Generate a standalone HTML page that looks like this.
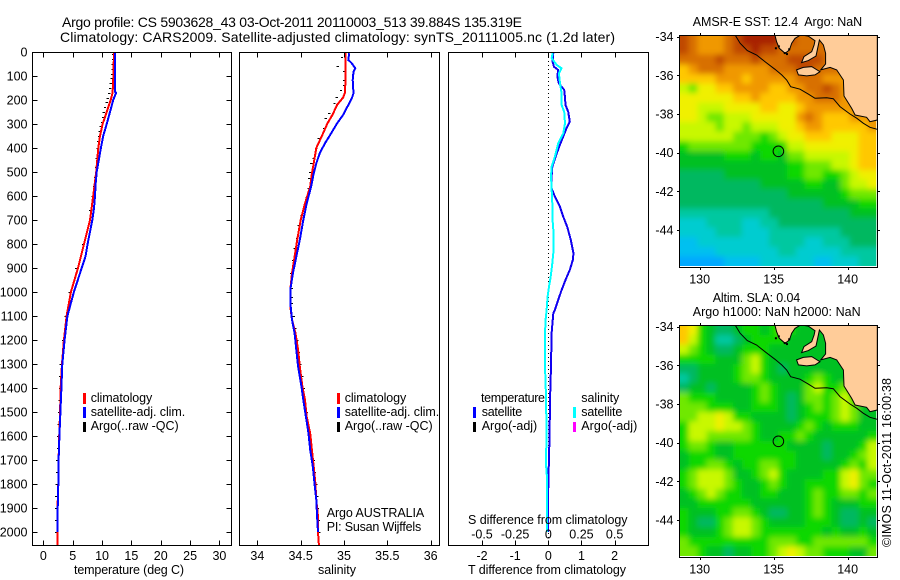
<!DOCTYPE html>
<html>
<head>
<meta charset="utf-8">
<title>Argo profile</title>
<style>
html,body{margin:0;padding:0;background:#fff;}
svg{display:block;}
text{font-family:"Liberation Sans",sans-serif;font-size:12.5px;fill:#000;}
</style>
</head>
<body>
<svg id="chart" width="900" height="580" viewBox="0 0 900 580" xmlns="http://www.w3.org/2000/svg">
<defs>
<filter id="soft" x="-10%" y="-10%" width="120%" height="120%"><feGaussianBlur stdDeviation="2.8"/></filter>
<clipPath id="clip-sst"><rect x="680" y="36" width="197" height="231"/></clipPath>
<clipPath id="clip-sla"><rect x="680" y="326" width="197" height="231"/></clipPath>
<clipPath id="cells-sst"><rect x="680" y="36" width="196.3" height="230"/></clipPath>
<clipPath id="cells-sla"><rect x="680" y="326" width="196.3" height="230"/></clipPath>
<clipPath id="clip-p1"><rect x="33" y="53" width="198" height="492"/></clipPath>
<clipPath id="clip-p2"><rect x="240" y="53" width="199" height="492"/></clipPath>
<clipPath id="clip-p3"><rect x="449" y="53" width="199" height="492"/></clipPath>
</defs>
<rect x="0" y="0" width="900" height="580" fill="#fff"/>

<text x="62" y="27" textLength="460" style="font-size:14px">Argo profile: CS 5903628_43 03-Oct-2011 20110003_513 39.884S 135.319E</text>
<text x="60" y="42" textLength="555" style="font-size:14px">Climatology: CARS2009. Satellite-adjusted climatology: synTS_20111005.nc (1.2d later)</text>

<g id="p1"></g>
<g id="p2"></g>
<g id="p3"></g>
<g id="m1"></g>
<g id="m2"></g>

<text x="74" y="574" textLength="110">temperature (deg C)</text>
<text x="318" y="574" textLength="38">salinity</text>
<text x="468" y="574" textLength="158">T difference from climatology</text>
<text x="468" y="524" textLength="159.5">S difference from climatology</text>

<g>
<rect x="83" y="393" width="3" height="11" fill="#f00"/>
<rect x="83" y="407" width="3" height="11" fill="#00f"/>
<rect x="83" y="422" width="3" height="10" fill="#000"/>
<text x="90.7" y="402" textLength="61.5">climatology</text>
<text x="90.7" y="416" textLength="94.5">satellite-adj. clim.</text>
<text x="90.7" y="430" textLength="88">Argo(..raw -QC)</text>
</g>
<g>
<rect x="337" y="393" width="3" height="11" fill="#f00"/>
<rect x="337" y="407" width="3" height="11" fill="#00f"/>
<rect x="337" y="422" width="3" height="10" fill="#000"/>
<text x="344.7" y="402" textLength="61.5">climatology</text>
<text x="344.7" y="416" textLength="94.5">satellite-adj. clim.</text>
<text x="344.7" y="430" textLength="88">Argo(..raw -QC)</text>
<text x="326.7" y="517" textLength="97.5">Argo AUSTRALIA</text>
<text x="326.7" y="531" textLength="94.5">PI: Susan Wijffels</text>
</g>
<g>
<text x="481" y="402" textLength="64">temperature</text>
<rect x="473" y="407" width="3" height="11" fill="#00f"/>
<rect x="473" y="422" width="3" height="10" fill="#000"/>
<text x="481.7" y="416" textLength="40.5">satellite</text>
<text x="481.7" y="430" textLength="55.5">Argo(-adj)</text>
<text x="581.3" y="402" textLength="38">salinity</text>
<rect x="573" y="407" width="3" height="11" fill="#0ff"/>
<rect x="573" y="422" width="3" height="10" fill="#f0f"/>
<text x="581.3" y="416" textLength="41">satellite</text>
<text x="581.3" y="430" textLength="56">Argo(-adj)</text>
</g>

<text x="692.7" y="26" textLength="169.5">AMSR-E SST: 12.4&#160; Argo: NaN</text>
<text x="712.7" y="302" textLength="87.5">Altim. SLA: 0.04</text>
<text x="692.7" y="316" textLength="168">Argo h1000: NaN h2000: NaN</text>
<text transform="translate(891,547) rotate(-90)" x="0" y="0" textLength="169">©IMOS 11-Oct-2011 16:00:38</text>

<script>
// ---- temperature panel data ----
const tempClimDepth = [0,100,170,200,250,300,350,400,500,600,700,800,850,900,1000,1100,1200,1300,1400,1500,1600,1700,1800,1900,2000,2055];
const tempClim = [12.04,11.93,11.8,11.47,10.8,10.1,9.66,9.37,9.0,8.5,7.95,6.93,6.42,5.9,4.7,3.97,3.5,3.18,2.95,2.85,2.7,2.6,2.55,2.42,2.39,2.39];
const tempSatDepth = [0,165,170,200,250,300,350,400,500,550,600,650,700,800,850,900,1000,1100,1200,1300,1400,1500,1600,1700,1800,1900,2000];
const tempSat = [12.2,12.2,12.4,11.9,11.36,10.8,10.2,9.8,9.1,8.9,8.8,8.63,8.35,7.55,7.2,6.53,5.2,4.1,3.63,3.24,3.07,2.9,2.73,2.6,2.55,2.44,2.39];
const tempArgoDepth = [10,30,50,70,90,110,130,150,170,190,210,230,250,270,290,310,330,350,370,400,440,480,520,560,600,660,720,800,900,1000,1100,1200,1300,1350,1400,1450,1500,1550,1600,1650,1700,1750,1800,1850,1900,1950,2000];
const tempArgo = [11.93,11.9,11.8,11.8,11.7,11.65,11.5,11.4,11.25,10.96,10.8,10.5,10.3,10.2,10,9.76,9.6,9.48,9.36,9.25,9.1,9,8.8,8.7,8.4,8.0,7.7,6.8,5.6,4.5,3.85,3.4,3.0,2.9,2.85,2.78,2.67,2.61,2.55,2.5,2.39,2.33,2.27,2.2,2.15,2.15,2.15];

// ---- salinity panel data ----
const salClimDepth = [5,100,170,190,220,260,297,346,400,464,506,561,631,700,783,853,922,992,1061,1116,1172,1241,1311,1394,1450,1519,1589,1658,1727,1797,1866,1936,2000,2055];
const salClim = [35.02,35.02,35.01,34.99,34.92,34.87,34.81,34.75,34.68,34.65,34.63,34.61,34.55,34.50,34.46,34.43,34.40,34.38,34.38,34.40,34.44,34.47,34.49,34.52,34.55,34.57,34.61,34.63,34.65,34.67,34.68,34.70,34.70,34.71];
const salSatDepth = [5,33,47,68,82,117,172,193,221,262,297,346,381,422,464,506,561,631,700,783,853,922,992,1061,1116,1172,1241,1311,1394,1450,1519,1589,1658,1727,1797,1866,1936,2000];
const salSat = [35.06,35.05,35.09,35.13,35.11,35.10,35.11,35.09,35.05,34.99,34.92,34.84,34.78,34.72,34.68,34.65,34.62,34.57,34.53,34.49,34.45,34.41,34.38,34.385,34.40,34.43,34.45,34.47,34.51,34.53,34.56,34.59,34.61,34.64,34.66,34.68,34.69,34.70];
const salArgoDepth = [19,58,78,117,138,158,189,211,253,276,318,360,401,443,464,499,526,568,603,638,679,721,776,818,867,922,985,1020,1047,1100,1150,1200,1250,1300,1350,1400,1450,1500,1550,1600,1650,1700,1750,1800,1850,1900,1950,2000];
const salArgo = [34.977,34.93,35.0,35.0,35.0,34.965,34.915,34.89,34.83,34.79,34.77,34.71,34.68,34.65,34.62,34.61,34.60,34.59,34.57,34.55,34.51,34.48,34.46,34.43,34.415,34.39,34.40,34.40,34.40,34.42,34.44,34.46,34.48,34.495,34.52,34.535,34.55,34.57,34.585,34.61,34.625,34.65,34.665,34.68,34.69,34.70,34.71,34.715];

// ---- difference panel data ----
const diffTDepth = [5,40,61,75,103,131,158,186,221,249,290,318,353,394,436,478,519,568,603,644,686,728,783,839,867,908,950,992,1033,1075,1089,1172,1311,1450,1589,1755,1866,2000];
const diffT = [0.15,0.13,0.17,0.30,0.27,0.32,0.48,0.50,0.52,0.60,0.65,0.55,0.45,0.33,0.22,0.12,0.10,0.10,0.20,0.35,0.45,0.57,0.68,0.76,0.74,0.65,0.52,0.40,0.30,0.20,0.15,0.10,0.08,0.05,0.04,0.01,-0.01,-0.01];
const diffSDepth = [5,26,54,68,89,131,172,221,249,297,339,381,436,478,519,568,631,686,756,825,881,936,978,1019,1075,1116,1172,1311,1422,1589,1714,1783,2000];
const diffS = [0.033,0.025,0.063,0.10,0.08,0.088,0.10,0.10,0.12,0.126,0.113,0.075,0.05,0.025,0.02,0.025,0.03,0.03,0.04,0.04,0.03,0.018,0.005,-0.005,-0.013,-0.02,-0.025,-0.025,-0.018,-0.013,-0.018,-0.008,-0.008];

// ---- tick labels ----
const depthTicks = [0,100,200,300,400,500,600,700,800,900,1000,1100,1200,1300,1400,1500,1600,1700,1800,1900,2000];
const tempTicks = [0,5,10,15,20,25,30];
const salTicks = [34,34.5,35,35.5,36];
const diffTTicks = [-2,-1,0,1,2];
const diffSTicks = [-0.5,-0.25,0,0.25,0.5];
const lonTicks = [130,135,140];
const latTicks = [-34,-36,-38,-40,-42,-44];

// ---- map data: colour-level per cell, rows north to south, columns west to east ----
const sstCells = [
[13,12,11,11,11,12,13,14,14,14,14,13,13,12,12,12,12,12,12,13,13,13],
[13,12,11,11,11,12,13,13,14,13,13,12,12,12,12,12,12,12,12,13,13,13],
[12,12,12,12,13,12,12,12,13,12,12,12,13,13,13,13,12,12,13,13,13,13],
[10,11,12,12,12,11,11,11,11,11,12,12,12,13,13,12,12,12,12,12,12,12],
[10,10,10,10,11,11,11,10,11,11,11,11,11,12,12,12,11,11,11,11,11,12],
[8,7,9,9,10,10,11,11,11,11,10,10,11,11,12,12,13,12,11,11,11,12],
[9,9,9,9,9,9,10,10,11,10,10,10,10,11,11,12,12,12,11,11,11,11],
[9,9,8,8,8,9,9,9,9,10,10,9,9,10,11,11,11,11,11,11,11,11],
[9,9,8,7,7,8,8,8,9,9,9,9,9,11,12,11,10,10,10,11,11,11],
[8,8,8,8,7,8,8,7,8,8,8,9,9,10,11,11,10,10,10,10,10,11],
[8,8,8,8,8,8,7,7,7,6,7,8,9,9,10,10,10,9,9,9,10,10],
[6,7,7,7,7,7,7,7,6,6,6,6,8,8,9,9,9,9,9,9,10,10],
[5,5,5,5,5,6,6,6,5,6,6,5,7,7,8,8,8,8,8,9,10,10],
[5,5,5,5,5,5,5,5,5,5,5,5,6,6,7,7,7,8,8,9,10,10],
[4,4,4,4,4,5,5,5,5,5,5,5,6,6,7,7,6,6,7,8,9,9],
[4,4,4,4,4,4,4,4,4,5,5,5,5,5,6,6,5,5,7,8,8,9],
[4,4,4,4,4,4,4,4,4,4,4,4,5,5,5,5,5,5,6,7,7,7],
[4,4,4,4,4,4,4,4,4,4,4,4,4,4,4,4,5,5,5,5,6,6],
[3,3,3,3,3,3,3,3,3,3,4,4,4,4,4,4,4,4,4,5,5,5],
[2,2,2,3,3,3,3,2,2,3,3,4,4,4,4,4,4,4,4,4,4,4],
[2,2,2,2,3,3,3,2,2,2,3,3,3,3,3,3,3,3,4,4,4,4],
[1,1,2,2,2,2,2,2,2,2,3,3,3,3,2,2,3,3,3,4,4,4],
[1,1,1,1,2,2,2,2,2,2,2,3,3,2,2,2,2,2,3,3,3,3],
[0,0,0,0,0,1,1,1,1,2,2,2,2,2,2,1,1,2,2,2,3,3]
];
const slaCells = [
[10,9,6,5,4,4,5,6,6,5,6,7,6,5,5,5,5,5,5,5,5,5],
[10,8,6,5,3,3,4,5,6,6,6,6,5,5,5,5,5,5,5,5,5,5],
[8,7,6,5,4,4,5,6,6,6,5,5,5,5,5,5,5,5,5,5,5,5],
[6,6,6,6,5,5,5,7,8,6,5,5,5,5,5,5,5,5,5,5,5,5],
[4,4,5,5,5,5,6,7,8,6,5,4,5,5,5,5,5,5,5,5,5,5],
[3,4,5,5,5,5,6,7,7,6,5,5,5,5,6,7,6,5,5,5,5,5],
[4,5,5,4,5,5,5,5,6,7,6,5,5,5,7,8,6,6,7,6,5,5],
[7,6,6,6,5,5,5,5,6,7,6,5,4,5,7,7,6,7,8,6,5,5],
[7,7,7,6,6,6,5,5,6,6,6,5,4,5,6,7,6,7,8,7,5,5],
[7,7,8,8,9,8,6,6,5,5,5,5,4,5,6,6,6,7,8,7,5,5],
[6,8,8,8,9,8,8,7,6,5,5,5,5,6,7,6,5,6,6,6,5,5],
[6,8,8,7,7,7,7,7,6,5,5,6,6,7,6,5,5,5,5,5,5,6],
[6,7,7,6,5,5,6,6,6,6,6,6,5,5,5,5,4,5,5,5,6,8],
[5,6,6,6,5,5,6,6,6,6,6,6,6,5,5,5,4,5,5,6,7,8],
[5,6,6,7,7,6,5,6,6,7,7,6,6,5,5,5,5,5,6,7,6,8],
[6,7,8,8,8,7,5,5,6,7,8,6,5,5,5,5,6,6,8,9,7,7],
[6,7,8,8,8,7,6,5,5,6,7,6,5,5,6,6,6,6,8,9,7,6],
[5,6,7,8,7,6,6,5,5,6,6,5,5,5,6,7,6,6,7,7,6,7],
[5,5,6,6,6,6,6,6,5,5,5,5,5,5,6,7,6,5,5,5,6,6],
[6,5,5,5,6,6,7,7,6,5,4,4,5,5,6,7,6,5,4,4,5,5],
[6,5,4,4,6,7,8,8,7,6,5,5,5,5,6,6,6,5,4,4,5,4],
[6,5,5,5,6,7,8,8,7,6,6,6,6,6,6,6,5,6,5,5,6,5],
[7,6,6,6,6,6,6,6,6,6,7,7,7,6,6,7,7,7,7,7,7,6],
[7,7,6,5,5,4,5,5,6,6,7,8,9,8,7,7,6,6,6,5,5,7]
];
const levelColors = ["#00a8ff","#00c0f0","#00ccd0","#00c8a0","#00b860","#00c020","#10d800","#70e800","#c8f800","#f0f000","#ffc800","#f09800","#d87000","#c04800","#a82000"];

// ---- geography (lon, lat) ----
const coastLon = [132.41,132.73,133.22,133.85,134.41,135.09,135.54,135.88,136.15,136.78,137.34,137.79,138.58,139.03,139.48,140.16,140.61,141.06,141.51,142.0];
const coastLat = [-33.93,-34.34,-34.72,-34.95,-35.29,-35.69,-35.98,-36.24,-36.59,-36.72,-36.97,-37.19,-37.16,-37.21,-37.62,-38.0,-38.22,-38.48,-38.69,-38.79];
const mainlandLon = [137.0,137.34,137.79,137.73,137.57,137.05,136.89,137.34,137.86,137.95,138.09,138.36,138.51,138.51,138.18,138.81,139.26,139.71,139.75,140.27,140.5,141.28,141.51,142.0,142.0];
const mainlandLat = [-33.93,-33.97,-34.21,-34.43,-34.78,-35.03,-35.34,-35.24,-35.0,-34.69,-34.17,-34.43,-34.86,-35.41,-35.72,-35.59,-35.72,-36.24,-37.07,-37.71,-38.05,-38.17,-38.4,-38.31,-33.93];
const eyreLon = [135.09,135.2,135.38,135.77,136.06,136.22,136.44,136.78];
const eyreLat = [-33.93,-34.26,-34.6,-34.86,-34.69,-34.34,-34.09,-33.93];
const kangarooLon = [136.55,137.0,137.57,138.13,137.79,137.23,136.67];
const kangarooLat = [-35.72,-35.59,-35.55,-35.81,-35.98,-36.03,-35.98];
const isletLon = [135.15,135.35,135.75,136.05,135.9];
const isletLat = [-34.6,-34.5,-34.85,-34.65,-34.9];
const floatLon = [135.319];
const floatLat = [-39.93];

const NS = "http://www.w3.org/2000/svg";
function mk(parent, tag, attrs, txt){
  const el = document.createElementNS(NS, tag);
  for (const k in attrs) el.setAttribute(k, attrs[k]);
  if (txt !== undefined) el.textContent = txt;
  parent.appendChild(el);
  return el;
}
const depthY = d => 52 + 0.24 * d;

function frameLines(g, x0, y0, x1, y1){
  const f = mk(g, "rect", {x:x0, y:y0, width:x1-x0, height:y1-y0, fill:"none", stroke:"#000", "stroke-width":1, "shape-rendering":"crispEdges"});
  
  
}
function xTicks(g, ticks, xf, y0, y1, inward, labelY){
  ticks.forEach(v => {
    const x = Math.round(xf(v)) + 0.5;
    const top = mk(g, "line", {x1:x, x2:x, y1:y0, y2:y0+inward, stroke:"#000", "shape-rendering":"crispEdges"});
    
    
    const bot = mk(g, "line", {x1:x, x2:x, y1:y1, y2:y1-inward, stroke:"#000", "shape-rendering":"crispEdges"});
    
    
    if (labelY) {
      const t = mk(g, "text", {x:xf(v), y:labelY, "text-anchor":"middle"}, String(v));
      
      
    }
  });
}
function curve(g, depths, vals, xf, color, clip, width){
  const pts = depths.map((d, i) => xf(vals[i]).toFixed(1) + "," + depthY(d).toFixed(1)).join(" ");
  const l = mk(g, "polyline", {points:pts, fill:"none", stroke:color, "stroke-width":width||2, "clip-path":"url(#"+clip+")", "shape-rendering":"crispEdges"});
  
  
}
function argoDashes(g, depths, vals, xf){
  depths.forEach((d, i) => {
    const x = xf(vals[i]);
    const y = Math.round(depthY(d)) + 0.5;
    const m = mk(g, "line", {x1:x-1.2, x2:x+1.2, y1:y, y2:y, stroke:"#000", "shape-rendering":"crispEdges"});
    
    
  });
}

// ---- panel 1: temperature ----
const p1 = document.getElementById("p1");
const tempX = v => 43.33 + 5.87 * v;
argoDashes(p1, tempArgoDepth, tempArgo, tempX);
curve(p1, tempClimDepth, tempClim, tempX, "#f00", "clip-p1");
curve(p1, tempSatDepth, tempSat, tempX, "#00f", "clip-p1");
frameLines(p1, 32.5, 52.5, 231.5, 545.5);
xTicks(p1, tempTicks, tempX, 52.5, 545.5, 5, 560);
depthTicks.forEach(d => {
  const y = Math.round(depthY(d)) + 0.5;
  if (d > 0) {
    const a = mk(p1, "line", {x1:32.5, x2:37.5, y1:y, y2:y, stroke:"#000", "shape-rendering":"crispEdges"});
    
    
    const b = mk(p1, "line", {x1:226.5, x2:231.5, y1:y, y2:y, stroke:"#000", "shape-rendering":"crispEdges"});
    
    
  }
  const t = mk(p1, "text", {x:27.5, y:depthY(d)+4.5, "text-anchor":"end"}, String(d));
  
  
});

// ---- panel 2: salinity ----
const p2 = document.getElementById("p2");
const salX = v => 257.33 + 86.67 * (v - 34);
argoDashes(p2, salArgoDepth, salArgo, salX);
curve(p2, salClimDepth, salClim, salX, "#f00", "clip-p2");
curve(p2, salSatDepth, salSat, salX, "#00f", "clip-p2");
frameLines(p2, 239.5, 52.5, 439.5, 545.5);
xTicks(p2, salTicks, salX, 52.5, 545.5, 5, 560);

// ---- panel 3: differences ----
const p3 = document.getElementById("p3");
const diffTX = v => 548.3 + 33.15 * v;
const diffSX = v => 548.3 + 132.6 * v;
const zero = mk(p3, "line", {x1:548.5, x2:548.5, y1:53, y2:545, stroke:"#000", "stroke-dasharray":"1 3", "shape-rendering":"crispEdges"});


curve(p3, diffTDepth, diffT, diffTX, "#1000f0", "clip-p3");
curve(p3, diffSDepth, diffS, diffSX, "#00ffff", "clip-p3");
frameLines(p3, 448.5, 52.5, 648.5, 545.5);
xTicks(p3, diffTTicks, diffTX, 52.5, 545.5, 5, 560);
diffSTicks.forEach(v => {
  const t = mk(p3, "text", {x:diffSX(v), y:538.7, "text-anchor":"middle"}, String(v));
  
  
});

// ---- maps ----
function drawMap(g, cells, top, clip, cellClip){
  const lonX = lon => 699.67 + (lon - 130) * 14.8;
  const latY = lat => top + 1.17 + (-34 - lat) * 19.33;
  const left = 679.5, right = 876.3, bottom = top + 230.5;
  const rows = cells.length, cols = cells[0].length;
  const cw = (right - left) / cols, ch = (bottom - top) / rows;
  const pad = 12;
  const wrap = mk(g, "g", {"clip-path":"url(#"+cellClip+")"});
  
  
  const cg = mk(wrap, "g", {filter:"url(#soft)"});
  
  
  cells.forEach((row, r) => row.forEach((v, c) => {
    const x0 = c === 0 ? left - pad : left + c*cw;
    const y0 = r === 0 ? top - pad : top + r*ch;
    const x1 = c === cols-1 ? right + pad : left + (c+1)*cw + 0.6;
    const y1 = r === rows-1 ? bottom + pad : top + (r+1)*ch + 0.6;
    const cell = mk(cg, "rect", {x:x0, y:y0, width:x1-x0, height:y1-y0, fill:levelColors[v], "shape-rendering":"crispEdges"});
    
    
  }));
  const pts = (lons, lats) => lons.map((x, i) => lonX(x).toFixed(1) + "," + latY(lats[i]).toFixed(1)).join(" ");
  const land = mk(g, "polygon", {points:pts(mainlandLon, mainlandLat), fill:"#ffcc99", stroke:"#000", "clip-path":"url(#"+clip+")"});
  
  
  const eyre = mk(g, "polygon", {points:pts(eyreLon, eyreLat), fill:"#ffcc99", stroke:"#000", "clip-path":"url(#"+clip+")"});
  
  
  const roo = mk(g, "polygon", {points:pts(kangarooLon, kangarooLat), fill:"#ffcc99", stroke:"#000"});
  
  
  const coast = mk(g, "polyline", {points:pts(coastLon, coastLat), fill:"none", stroke:"#000", "clip-path":"url(#"+clip+")"});
  
  
  isletLon.forEach((x, i) => {
    const isl = mk(g, "rect", {x:lonX(x)-1, y:latY(isletLat[i])-1, width:2, height:2, fill:"#000"});
    
    
  });
  const marker = mk(g, "circle", {cx:lonX(floatLon[0]), cy:latY(floatLat[0]), r:5.3, fill:"none", stroke:"#000"});
  
  
  const fr = mk(g, "rect", {x:679.5, y:top, width:198, height:232, fill:"none", stroke:"#000", "shape-rendering":"crispEdges"});
  
  
  lonTicks.forEach(v => {
    const x = Math.round(lonX(v)) + 0.5;
    const tt = mk(g, "line", {x1:x, x2:x, y1:top-2.5, y2:top, stroke:"#000", "shape-rendering":"crispEdges"});
    
    
    const tb = mk(g, "line", {x1:x, x2:x, y1:top+232, y2:top+234.5, stroke:"#000", "shape-rendering":"crispEdges"});
    
    
    const lb = mk(g, "text", {x:lonX(v), y:top+248, "text-anchor":"middle"}, String(v));
    
    
  });
  latTicks.forEach(v => {
    const y = Math.round(latY(v)) + 0.5;
    const tl = mk(g, "line", {x1:677, x2:679.5, y1:y, y2:y, stroke:"#000", "shape-rendering":"crispEdges"});
    
    
    const tr = mk(g, "line", {x1:877.5, x2:880, y1:y, y2:y, stroke:"#000", "shape-rendering":"crispEdges"});
    
    
    const lb = mk(g, "text", {x:673.5, y:latY(v)+4.5, "text-anchor":"end"}, String(v));
    
    
  });
}
drawMap(document.getElementById("m1"), sstCells, 35.5, "clip-sst", "cells-sst");
drawMap(document.getElementById("m2"), slaCells, 325.5, "clip-sla", "cells-sla");
</script>
</svg>
</body>
</html>
